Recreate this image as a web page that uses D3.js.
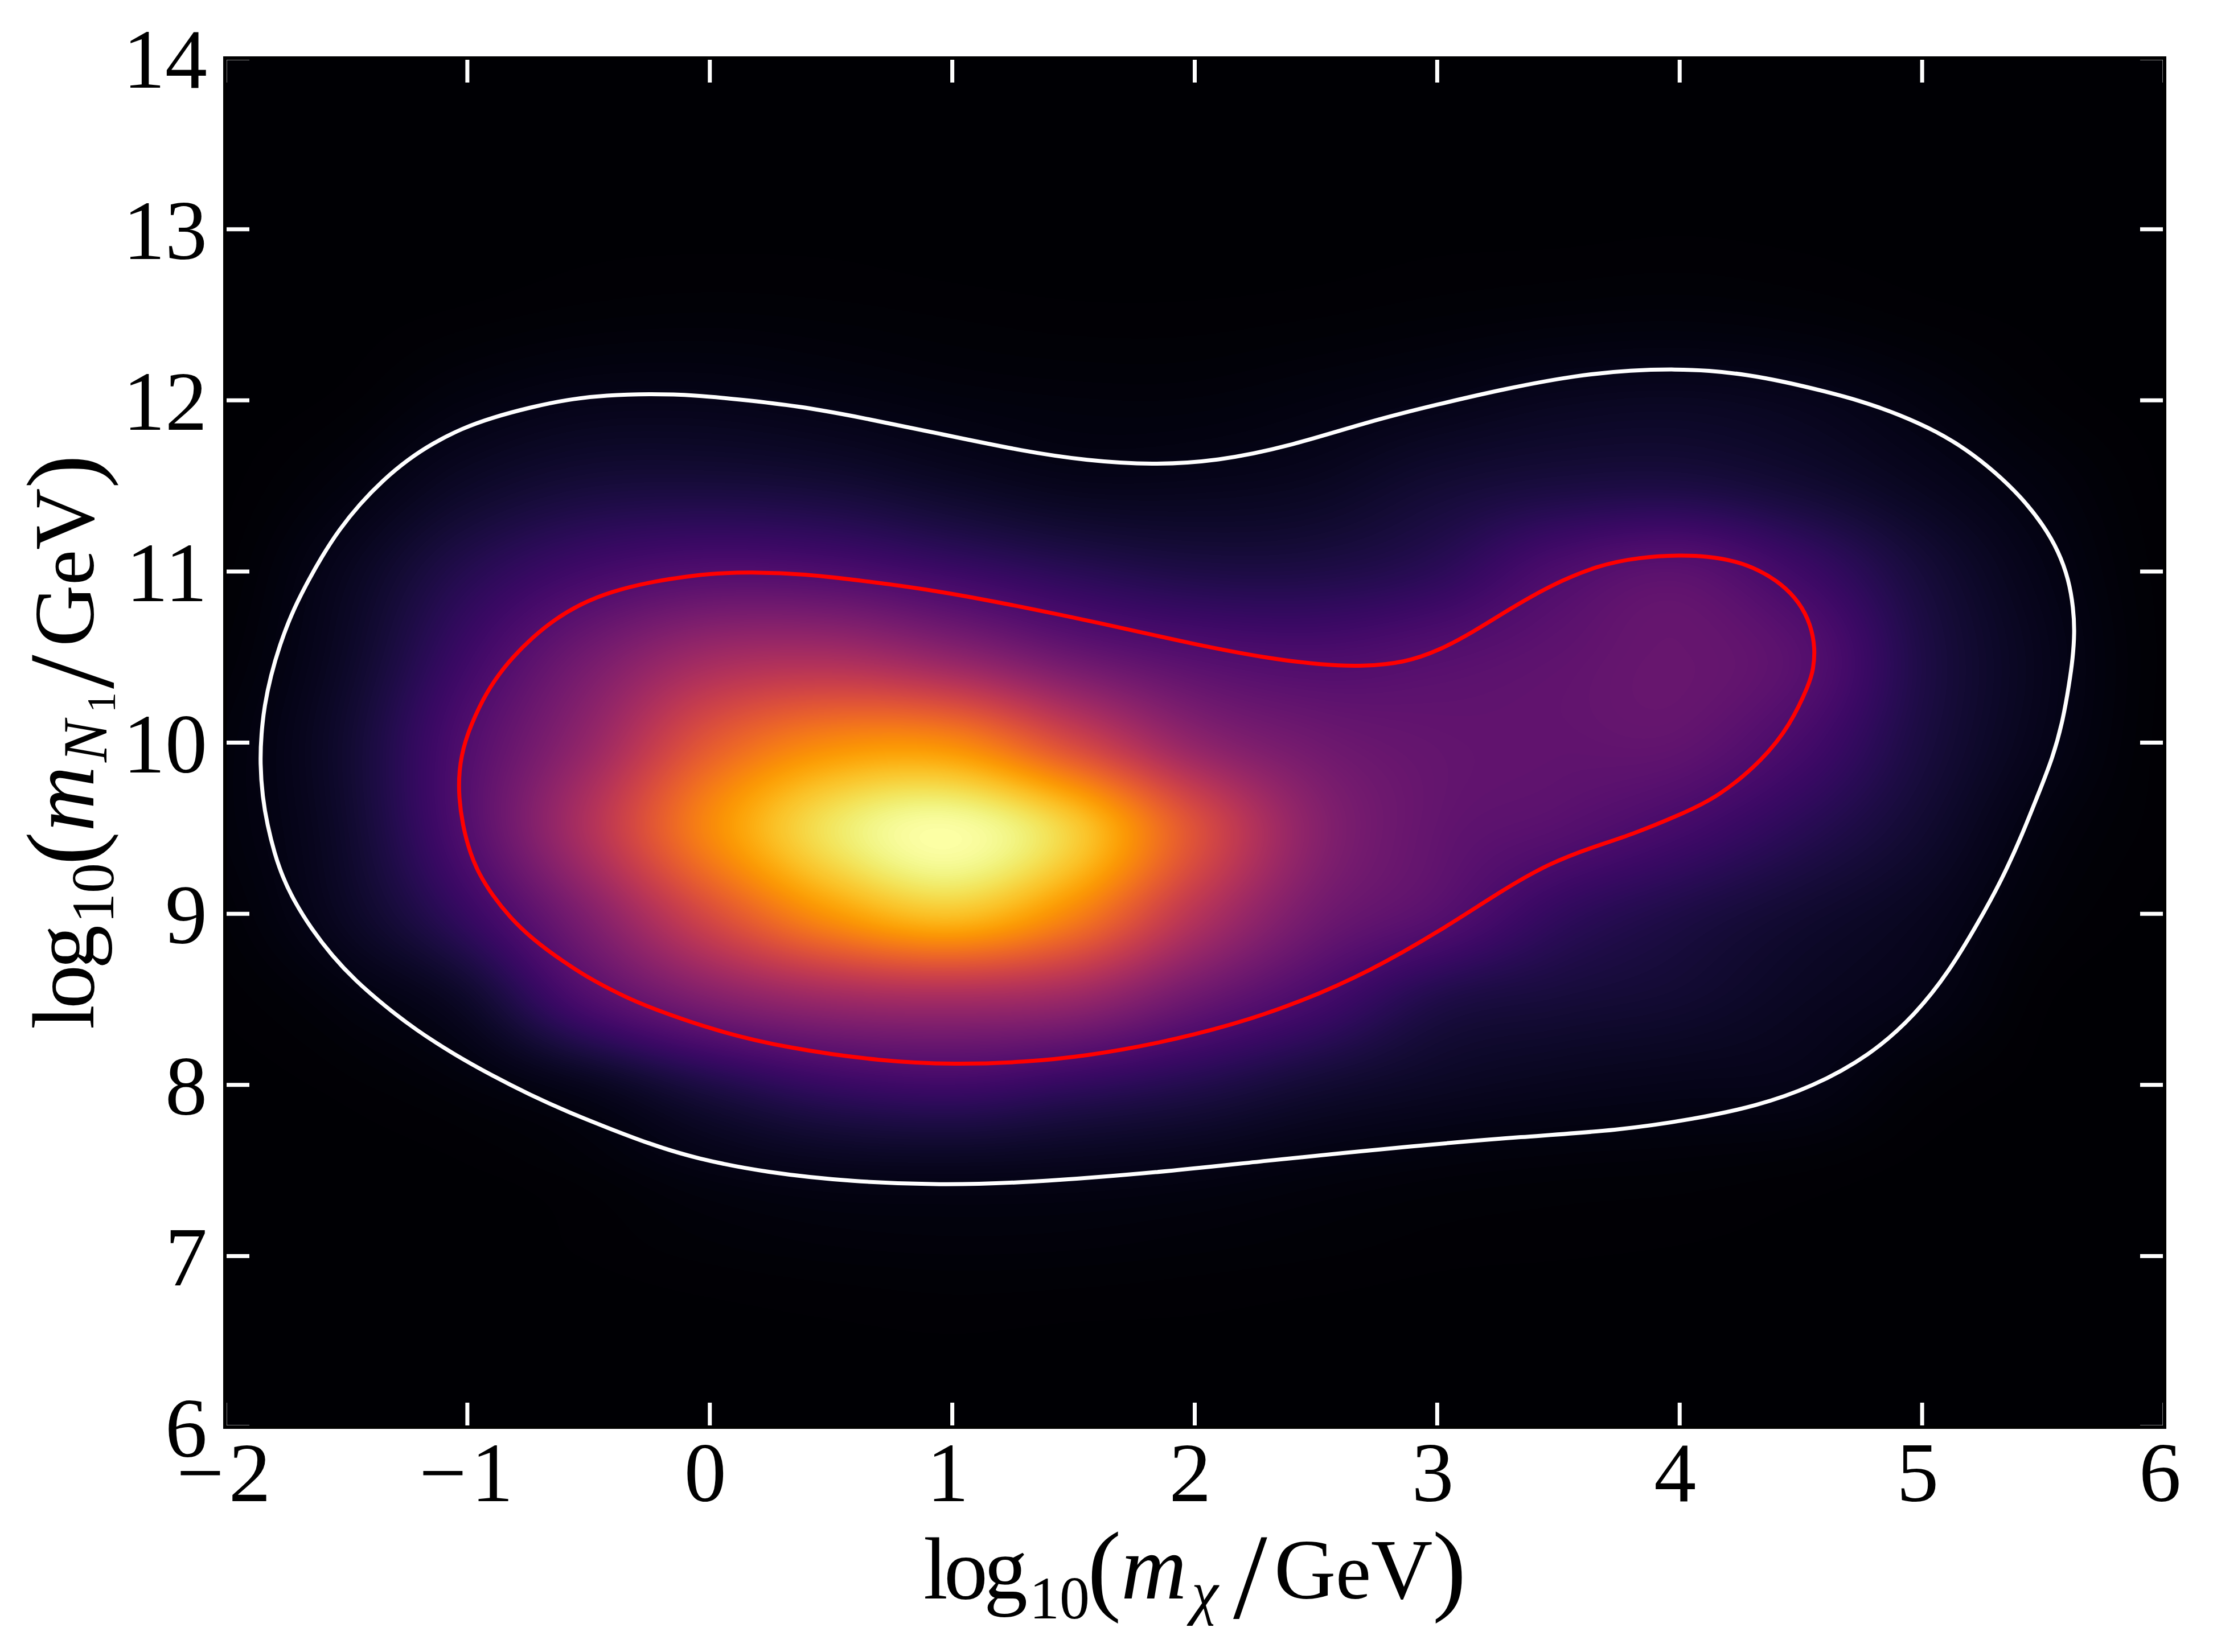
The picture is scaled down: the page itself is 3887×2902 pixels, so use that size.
<!DOCTYPE html>
<html>
<head>
<meta charset="utf-8">
<script src="https://cdn.jsdelivr.net/npm/d3@7"></script>
<style>
  html, body { margin: 0; padding: 0; background: #fff; }
  svg { display: block; }
  text { font-family: "Liberation Serif", serif; fill: #000; }
</style>
</head>
<body>
<svg id="chart" width="3887" height="2902"></svg>
<script>
// Tick positions and labels
const xTicks = [-2, -1, 0, 1, 2, 3, 4, 5, 6];
const yTicks = [6, 7, 8, 9, 10, 11, 12, 13, 14];
const xTickLabels = ["\u22122", "\u22121", "0", "1", "2", "3", "4", "5", "6"];
const yTickLabels = ["6", "7", "8", "9", "10", "11", "12", "13", "14"];

// Density grid nodes, normalised to the peak
const gridX = [-2, -1.5, -1, -0.5, 0, 0.5, 1, 1.5, 2, 2.5, 3, 3.5, 4, 4.5, 5, 5.5, 6];
const gridY = [6, 6.5, 7, 7.5, 8, 8.5, 9, 9.5, 10, 10.5, 11, 11.5, 12, 12.5, 13, 13.5, 14];
const density = [
  [0,0,0,0,0,0,0,0,0,0,0,0,0,0,0,0,0],
  [0,0,.0002,.0005,.001,.002,.003,.002,.002,.001,.001,.0005,.0005,.0002,0,0,0],
  [0,.0002,.001,.004,.009,.013,.015,.014,.011,.008,.005,.004,.003,.002,.0005,0,0],
  [0,.001,.003,.012,.033,.047,.05,.046,.038,.026,.018,.014,.012,.008,.002,.0005,0],
  [.001,.006,.02,.055,.12,.175,.195,.165,.13,.09,.065,.052,.045,.04,.012,.002,0],
  [.005,.025,.075,.23,.35,.42,.44,.41,.3,.21,.125,.1,.085,.06,.038,.005,.001],
  [.012,.065,.175,.355,.58,.77,.86,.73,.49,.32,.25,.165,.12,.085,.055,.015,.002],
  [.02,.08,.24,.47,.74,.93,.995,.88,.6,.37,.28,.25,.205,.145,.085,.027,.005],
  [.02,.085,.235,.4,.62,.74,.74,.57,.39,.31,.28,.275,.275,.21,.11,.045,.005],
  [.012,.07,.19,.32,.43,.45,.39,.3,.245,.225,.245,.27,.29,.25,.12,.05,.006],
  [.006,.055,.135,.2,.235,.225,.185,.145,.12,.12,.15,.225,.26,.19,.1,.04,.005],
  [.002,.025,.07,.1,.105,.095,.07,.05,.05,.06,.09,.11,.115,.09,.055,.025,.003],
  [.0005,.006,.028,.043,.044,.035,.025,.02,.02,.028,.04,.055,.06,.05,.028,.008,.001],
  [0,.001,.005,.01,.012,.01,.007,.005,.005,.007,.011,.015,.017,.013,.006,.002,0],
  [0,.0002,.001,.002,.002,.002,.001,.001,.001,.001,.002,.002,.003,.002,.001,.0003,0],
  [0,0,0,0,0,0,0,0,0,0,0,0,0,0,0,0,0],
  [0,0,0,0,0,0,0,0,0,0,0,0,0,0,0,0,0]
];

// Outer contour, traced clockwise from the left edge
const outerX = [-1.845,-1.855,-1.85,-1.837,-1.811,-1.774,-1.727,-1.669,-1.601,-1.528,-1.444,-1.35,-1.244,-1.14,-1.024,-0.899,-0.742,-0.584,-0.427,-0.251,-0.06,0.13,0.36,0.632,0.947,1.299,1.555,1.825,2.095,2.382,2.722,3.006,3.29,3.577,3.804,3.988,4.117,4.274,4.431,4.589,4.746,4.903,5.061,5.185,5.301,5.406,5.5,5.563,5.605,5.624,5.629,5.621,5.607,5.582,5.54,5.474,5.413,5.326,5.227,5.112,4.971,4.786,4.544,4.316,4.06,3.746,3.349,2.922,2.266,1.867,1.299,0.947,0.59,0.233,-0.06,-0.251,-0.427,-0.584,-0.742,-0.899,-1.056,-1.213,-1.339,-1.465,-1.559,-1.643,-1.716,-1.763,-1.795,-1.825];
const outerY = [9.682,9.88,10.05,10.215,10.391,10.569,10.747,10.913,11.086,11.246,11.394,11.531,11.656,11.751,11.835,11.899,11.959,12.006,12.03,12.038,12.031,12.004,11.968,11.898,11.805,11.701,11.648,11.622,11.645,11.728,11.878,11.978,12.071,12.147,12.177,12.182,12.175,12.151,12.109,12.056,11.997,11.919,11.818,11.711,11.581,11.439,11.272,11.117,10.951,10.785,10.642,10.488,10.348,10.138,9.915,9.682,9.463,9.19,8.937,8.664,8.408,8.172,7.986,7.876,7.8,7.733,7.697,7.646,7.553,7.49,7.427,7.414,7.434,7.487,7.57,7.656,7.752,7.841,7.942,8.055,8.179,8.322,8.459,8.613,8.756,8.911,9.077,9.219,9.35,9.52];

// Inner contour, traced the same way
const innerX = [-1.035,-1.035,-1.014,-0.951,-0.888,-0.815,-0.731,-0.636,-0.531,-0.406,-0.251,-0.1,0.024,0.193,0.381,0.632,0.947,1.299,1.583,2.011,2.295,2.522,2.694,2.865,3.006,3.149,3.29,3.462,3.661,3.833,4.004,4.117,4.222,4.326,4.421,4.494,4.541,4.559,4.551,4.536,4.457,4.344,4.159,4.004,3.804,3.633,3.462,3.29,3.006,2.722,2.438,2.154,1.839,1.555,1.299,1.01,0.717,0.318,0.024,-0.251,-0.354,-0.479,-0.605,-0.731,-0.826,-0.899,-0.951,-0.988,-1.02];
const innerY = [9.682,9.832,10.002,10.215,10.367,10.497,10.616,10.724,10.812,10.883,10.937,10.97,10.99,10.996,10.986,10.946,10.886,10.79,10.707,10.57,10.494,10.454,10.444,10.467,10.537,10.647,10.773,10.916,11.036,11.083,11.096,11.088,11.064,11.011,10.927,10.82,10.69,10.547,10.428,10.348,10.105,9.899,9.682,9.58,9.463,9.386,9.293,9.157,8.894,8.664,8.485,8.348,8.239,8.169,8.132,8.119,8.136,8.215,8.315,8.453,8.518,8.607,8.72,8.851,8.981,9.112,9.231,9.35,9.52];

const plotLeft = 395, plotRight = 3802, plotTop = 102, plotBottom = 2507;
const x = d3.scaleLinear().domain([-2, 6]).range([plotLeft, plotRight]);
const y = d3.scaleLinear().domain([6, 14]).range([plotBottom, plotTop]);
const color = d3.scaleSequential(d3.interpolateInferno).domain([0, 1]);

const svg = d3.select("#chart");
svg.append("rect").attr("width", 3887).attr("height", 2902).attr("fill", "#fff");

// Paints the density grid into a canvas with Catmull-Rom smoothing
function paintDensity() {
  const W = plotRight - plotLeft, H = plotBottom - plotTop;
  const canvas = document.createElement("canvas");
  canvas.width = W; canvas.height = H;
  const ctx = canvas.getContext("2d");
  const img = ctx.createImageData(W, H);

  const lut = d3.range(2048).map(i => d3.rgb(color(i / 2047)));
  const cr = (p0, p1, p2, p3, t) =>
    0.5 * (2 * p1 + (p2 - p0) * t + (2 * p0 - 5 * p1 + 4 * p2 - p3) * t * t + (3 * p1 - p0 - 3 * p2 + p3) * t * t * t);
  const n = gridX.length, m = gridY.length;
  const dx = gridX[1] - gridX[0], dy = gridY[1] - gridY[0];
  const at = (arr, i) => arr[Math.max(0, Math.min(arr.length - 1, i))];

  const rows = density.map(row => {
    const out = new Float32Array(W);
    for (let i = 0; i < W; i++) {
      const u = (x.invert(plotLeft + i + 0.5) - gridX[0]) / dx;
      const k = Math.min(n - 2, Math.floor(u));
      out[i] = cr(at(row, k - 1), at(row, k), at(row, k + 1), at(row, k + 2), u - k);
    }
    return out;
  });
  let p = 0;
  for (let j = 0; j < H; j++) {
    const v = (y.invert(plotTop + j + 0.5) - gridY[0]) / dy;
    const k = Math.min(m - 2, Math.floor(v));
    const t = v - k;
    const r0 = at(rows, k - 1), r1 = at(rows, k), r2 = at(rows, k + 1), r3 = at(rows, k + 2);
    for (let i = 0; i < W; i++) {
      const val = Math.max(0, Math.min(1, cr(r0[i], r1[i], r2[i], r3[i], t)));
      const c = lut[Math.round(val * 2047)];
      img.data[p++] = c.r; img.data[p++] = c.g; img.data[p++] = c.b; img.data[p++] = 255;
    }
  }
  ctx.putImageData(img, 0, 0);
  return canvas.toDataURL("image/png");
}

svg.append("image")
  .attr("x", plotLeft).attr("y", plotTop)
  .attr("width", plotRight - plotLeft).attr("height", plotBottom - plotTop)
  .attr("preserveAspectRatio", "none")
  .attr("href", paintDensity());

// Contour lines
const contour = d3.line().x(d => x(d[0])).y(d => y(d[1])).curve(d3.curveBasisClosed);
svg.append("path").attr("d", contour(d3.zip(outerX, outerY)))
  .attr("fill", "none").attr("stroke", "#fff").attr("stroke-width", 7);
svg.append("path").attr("d", contour(d3.zip(innerX, innerY)))
  .attr("fill", "none").attr("stroke", "#f00").attr("stroke-width", 7);

// Inward ticks on all four sides; labels only on the bottom and left
const tickLen = 43, tickW = 7;
function styleAxis(g) {
  g.select(".domain").remove();
  g.selectAll(".tick line").attr("stroke", "#fff").attr("stroke-width", tickW);
}
const xLabel = d => xTickLabels[xTicks.indexOf(d)];
const yLabel = d => yTickLabels[yTicks.indexOf(d)];

svg.append("g").attr("transform", `translate(0,${plotBottom})`)
  .call(d3.axisBottom(x).tickValues(xTicks).tickSize(-tickLen).offset(0).tickFormat(xLabel))
  .call(styleAxis)
  .call(g => g.selectAll("text")
    .attr("y", 130).attr("dy", 0)
    .attr("dx", d => d < 0 ? 2 : -8)
    .attr("letter-spacing", d => d < 0 ? 8 : 0)
    .attr("text-anchor", "middle")
    .attr("font-family", "Liberation Serif")
    .attr("font-size", 148));
svg.append("g").attr("transform", `translate(0,${plotTop})`)
  .call(d3.axisTop(x).tickValues(xTicks).tickSize(-tickLen).offset(0).tickFormat(""))
  .call(styleAxis);
svg.append("g").attr("transform", `translate(${plotLeft},0)`)
  .call(d3.axisLeft(y).tickValues(yTicks).tickSize(-tickLen).offset(0).tickFormat(yLabel))
  .call(styleAxis)
  .call(g => g.selectAll("text")
    .attr("x", -31).attr("dy", 52)
    .attr("text-anchor", "end")
    .attr("font-family", "Liberation Serif")
    .attr("font-size", 148));
svg.append("g").attr("transform", `translate(${plotRight},0)`)
  .call(d3.axisRight(y).tickValues(yTicks).tickSize(-tickLen).offset(0).tickFormat(""))
  .call(styleAxis);

// Frame
svg.append("rect")
  .attr("x", plotLeft).attr("y", plotTop)
  .attr("width", plotRight - plotLeft).attr("height", plotBottom - plotTop)
  .attr("fill", "none").attr("stroke", "#000").attr("stroke-width", 6);

// Axis titles set glyph by glyph so sub-scripts and tall delimiters sit correctly
function title(g, runs) {
  const t = g.append("text");
  runs.forEach(r => {
    t.append("tspan")
      .attr("x", r.at).attr("y", r.drop || 0)
      .attr("font-size", r.size)
      .attr("font-style", r.italic ? "italic" : "normal")
      .text(r.s);
  });
}
const logRuns = [
  { s: "l", at: 0, size: 154 },
  { s: "o", at: 36, size: 154 },
  { s: "g", at: 106, size: 154 },
  { s: "10", at: 186, size: 106, drop: 35 },
  { s: "(", at: 288, size: 178, drop: 6 }
];
const xTitle = svg.append("g").attr("transform", "translate(1622,2808)");
title(xTitle, logRuns.concat([
  { s: "m", at: 347, size: 160, italic: true },
  { s: "\u03c7", at: 471, size: 106, italic: true, drop: 25 },
  { s: "/", at: 544, size: 215, drop: 34 },
  { s: "G", at: 616, size: 150 },
  { s: "e", at: 724, size: 140 },
  { s: "V", at: 786, size: 150 },
  { s: ")", at: 894, size: 178, drop: 6 }
]));
const yTitle = svg.append("g").attr("transform", "translate(164,1808) rotate(-90)");
title(yTitle, logRuns.concat([
  { s: "m", at: 347, size: 160, italic: true },
  { s: "N", at: 469, size: 110, italic: true, drop: 23 },
  { s: "1", at: 556, size: 72, drop: 38 },
  { s: "/", at: 598, size: 215, drop: 34 },
  { s: "G", at: 672, size: 150 },
  { s: "e", at: 780, size: 140 },
  { s: "V", at: 842, size: 150 },
  { s: ")", at: 950, size: 178, drop: 6 }
]));
</script>
</body>
</html>
